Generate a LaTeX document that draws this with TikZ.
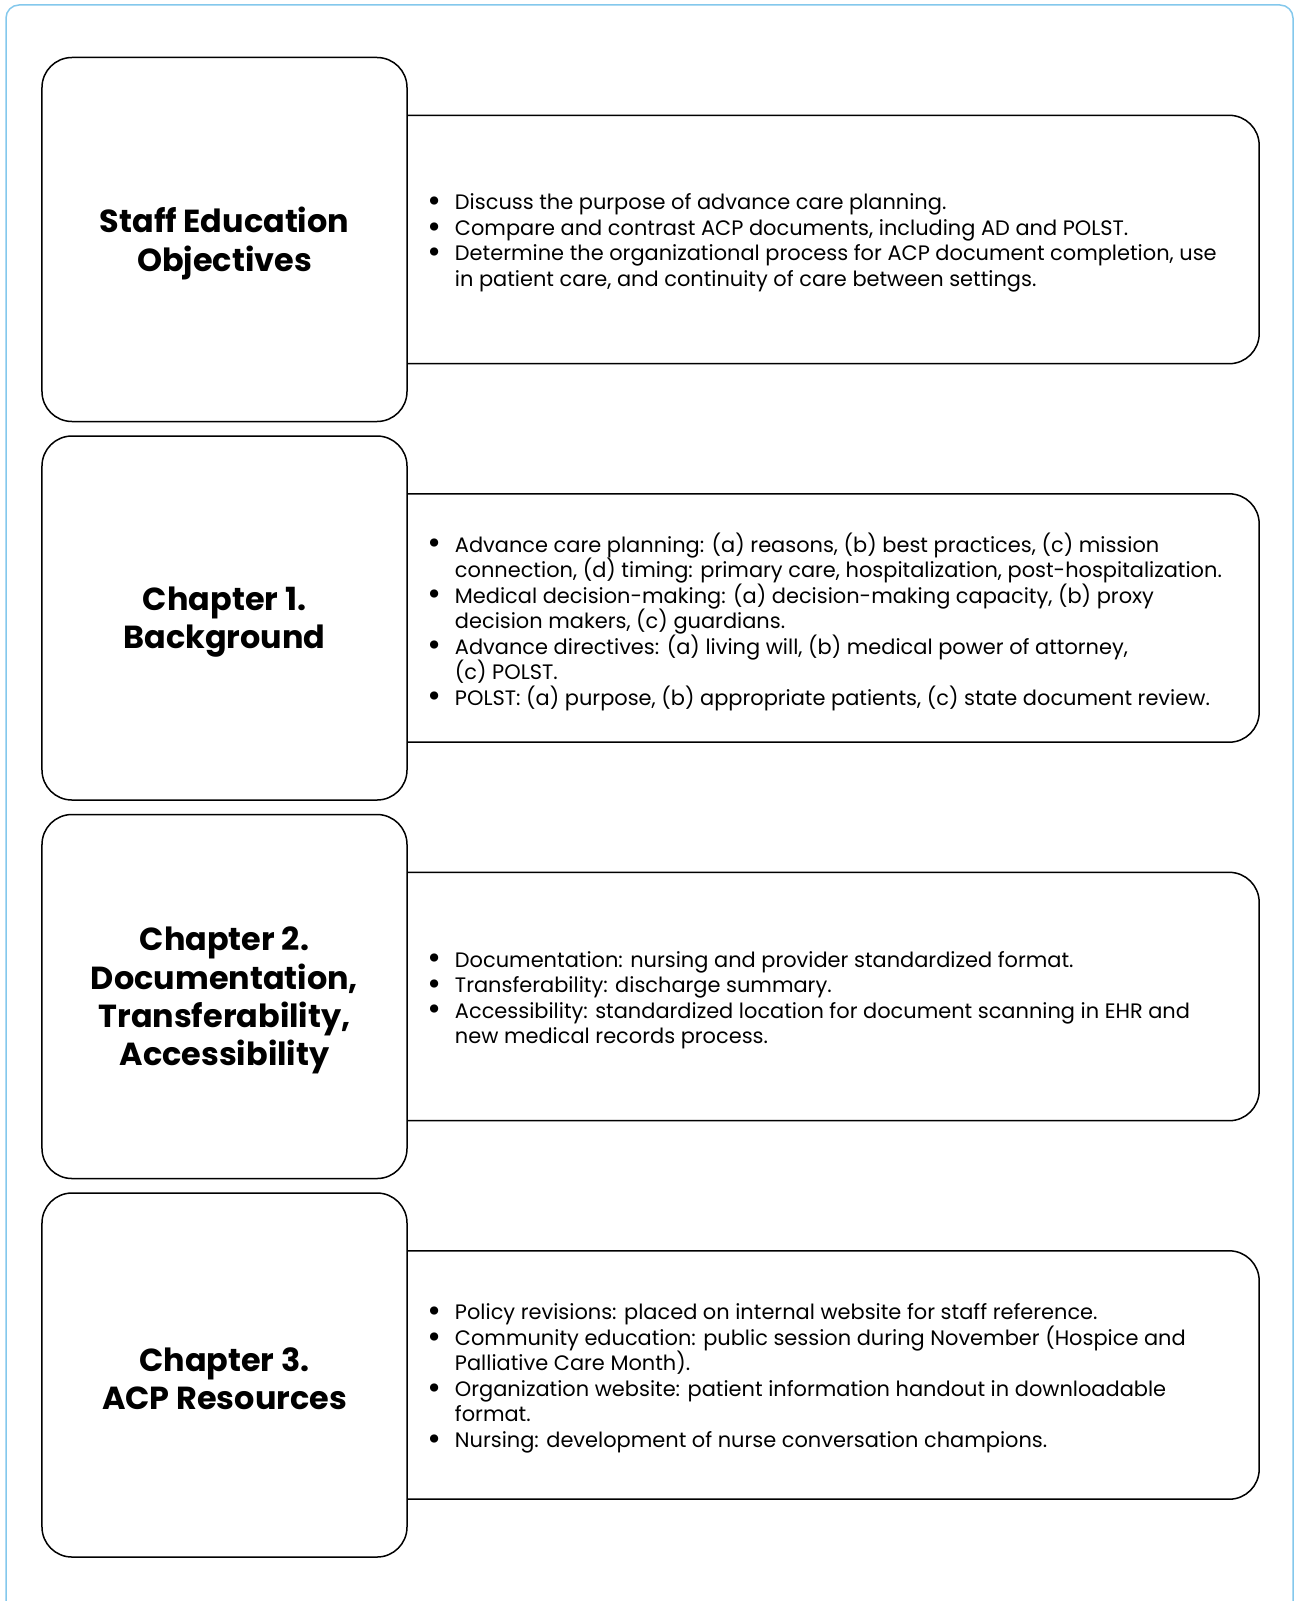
\documentclass[tikz,border=0pt]{standalone}
\usepackage{fontspec}
\setmainfont{Poppins}
\newfontfamily\dotfont{DejaVu Sans}
\usetikzlibrary{positioning}
\definecolor{frameblue}{RGB}{132,200,236}
\newcommand{\itm}{\makebox[28bp][l]{\hspace*{-1bp}\smash{\raisebox{-1.8bp}{\scalebox{1.35}{\dotfont\char"2022}}}}}
\newcommand{\cnt}{\hspace*{28bp}}

\begin{document}
\begin{tikzpicture}[x=1bp,y=-1bp,
  chapter/.style={draw, line width=1.5bp, rounded corners=30bp, minimum width=365bp, minimum height=364bp, inner sep=0pt},
  title/.style={align=center, inner sep=0pt, yshift=-4bp, font=\fontsize{32}{38.3}\selectfont\bfseries},
  topics/.style={minimum width=851bp, minimum height=248bp, inner sep=0pt},
  topicline/.style={line width=1.5bp, rounded corners=30bp},
  topictext/.style={align=left, inner sep=0pt, anchor=west, yshift=-3.5bp, font=\fontsize{21}{25.6}\selectfont}]
\useasboundingbox (0,0) rectangle (1294,1601);
\draw[frameblue, line width=1.5bp, rounded corners=13bp] (6,5) rectangle (1293,1614);

% left column
\node[chapter] (c1) at (224.5,239.5) {};
\node[chapter, below=13bp of c1] (c2) {};
\node[chapter, below=13bp of c2] (c3) {};
\node[chapter, below=13bp of c3] (c4) {};
\node[title] (h1) at (c1) {Staff Education\\Objectives};
\node[title] (h2) at (c2) {Chapter 1.\\Background};
\node[title] (h3) at (c3) {Chapter 2.\\Documentation,\\Transferability,\\Accessibility};
\node[title] (h4) at (c4) {Chapter 3.\\ACP Resources};

% right column
\node[topics, right=0bp of c1] (t1) {};
\node[topics, right=0bp of c2] (t2) {};
\node[topics, right=0bp of c3] (t3) {};
\node[topics, right=0bp of c4] (t4) {};
\draw[topicline] (t1.north west) -- (t1.north east) -- (t1.south east) -- (t1.south west);
\draw[topicline] (t2.north west) -- (t2.north east) -- (t2.south east) -- (t2.south west);
\draw[topicline] (t3.north west) -- (t3.north east) -- (t3.south east) -- (t3.south west);
\draw[topicline] (t4.north west) -- (t4.north east) -- (t4.south east) -- (t4.south west);

\node[topictext] (l1) at ([xshift=19bp]t1.west) {\itm Discuss the purpose of advance care planning.\\
\itm Compare and contrast ACP documents, including AD and POLST.\\
\itm Determine the organizational process for ACP document completion, use\\
\cnt in patient care, and continuity of care between settings.};
\node[topictext] (l2) at ([xshift=19bp]t2.west) {\itm Advance care planning: (a) reasons, (b) best practices, (c) mission\\
\cnt connection, (d) timing: primary care, hospitalization, post-hospitalization.\\
\itm Medical decision-making: (a) decision-making capacity, (b) proxy\\
\cnt decision makers, (c) guardians.\\
\itm Advance directives: (a) living will, (b) medical power of attorney,\\
\cnt (c) POLST.\\
\itm POLST: (a) purpose, (b) appropriate patients, (c) state document review.};
\node[topictext] (l3) at ([xshift=19bp]t3.west) {\itm Documentation: nursing and provider standardized format.\\
\itm Transferability: discharge summary.\\
\itm Accessibility: standardized location for document scanning in EHR and\\
\cnt new medical records process.};
\node[topictext] (l4) at ([xshift=19bp]t4.west) {\itm Policy revisions: placed on internal website for staff reference.\\
\itm Community education: public session during November (Hospice and\\
\cnt Palliative Care Month).\\
\itm Organization website: patient information handout in downloadable\\
\cnt format.\\
\itm Nursing: development of nurse conversation champions.};
\end{tikzpicture}
\end{document}
